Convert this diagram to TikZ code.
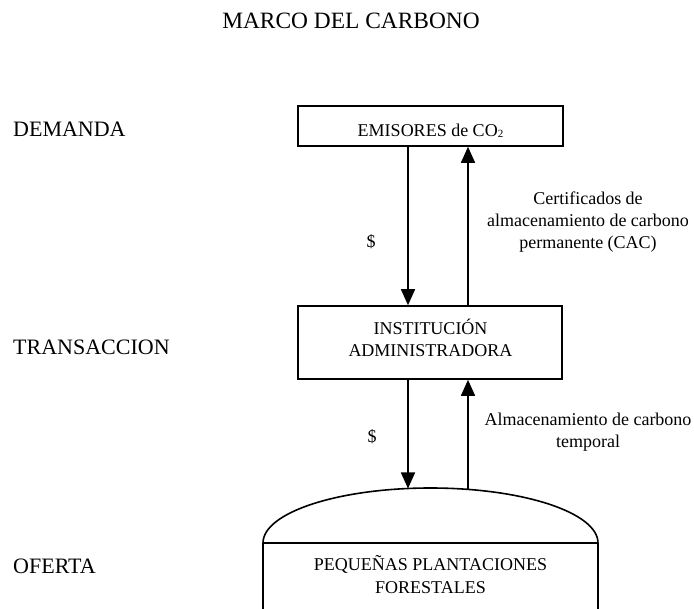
\documentclass[tikz,border=0pt]{standalone}
\usepackage{fontspec}
\setmainfont{Liberation Serif}
\usetikzlibrary{arrows.meta}
\tikzset{
  ln/.style={line width=1.6pt},
  boxnode/.style={draw, ln, inner sep=0pt},
  arr/.style={ln, -{Triangle[length=16pt,width=14pt]}},
  big/.style={font=\fontsize{22}{26}\selectfont, inner sep=0pt, anchor=base},
  small/.style={font=\fontsize{18}{22}\selectfont, inner sep=0pt, align=center},
}
\begin{document}
\begin{tikzpicture}[x=1pt,y=-1pt]
\useasboundingbox (0,0) rectangle (694,609);
\clip (0,0) rectangle (694,609);
\fill[white] (0,0) rectangle (694,609);
% titles and level labels
\node[big, font=\fontsize{23.4}{26}\selectfont] (title) at (351,29) {MARCO DEL CARBONO};
\node[big, anchor=base west] (dem) at (13,137) {DEMANDA};
\node[big, anchor=base west] (tra) at (13,355) {TRANSACCION};
\node[big, anchor=base west] (ofe) at (13,573) {OFERTA};
% boxes
\node[boxnode, minimum width=265pt, minimum height=40pt] (emis) at (430.5,126) {};
\node[small, anchor=base] (emist) at (430.5,137) {EMISORES de CO{\fontsize{11}{11}\selectfont\raisebox{-1pt}{2}}};
\node[boxnode, minimum width=264pt, minimum height=73pt] (inst) at (430,342.5) {};
\node[small, anchor=base] (instt) at (430.5,357) {INSTITUCIÓN\\ADMINISTRADORA};
% dome shape
\draw[ln] (263,615) -- (263,543) arc[start angle=180, end angle=360, x radius=167.5, y radius=55] -- (598,615);
\draw[ln] (263,543) -- (598,543);
\node[small, anchor=base] (pf) at (430.5,593) {PEQUEÑAS PLANTACIONES\\FORESTALES};
\coordinate (domeL) at (408,488.5);
\coordinate (domeR) at (468,489.4);
% arrow columns
\coordinate (L) at (408,0);
\coordinate (R) at (468,0);
\draw[arr] (emis.south -| L) -- (inst.north -| L);
\draw[arr] (inst.north -| R) -- (emis.south -| R);
\draw[arr] (inst.south -| L) -- (domeL);
\draw[arr] (domeR) -- (inst.south -| R);
% labels
\node[small] (d1) at (371,242) {\$};
\node[small] (d2) at (372,437) {\$};
\node[small, anchor=base] (cert) at (588,249) {Certificados de\\almacenamiento de carbono\\permanente (CAC)};
\node[small, anchor=base] (temp) at (588,448) {Almacenamiento de carbono\\temporal};
\end{tikzpicture}
\end{document}
